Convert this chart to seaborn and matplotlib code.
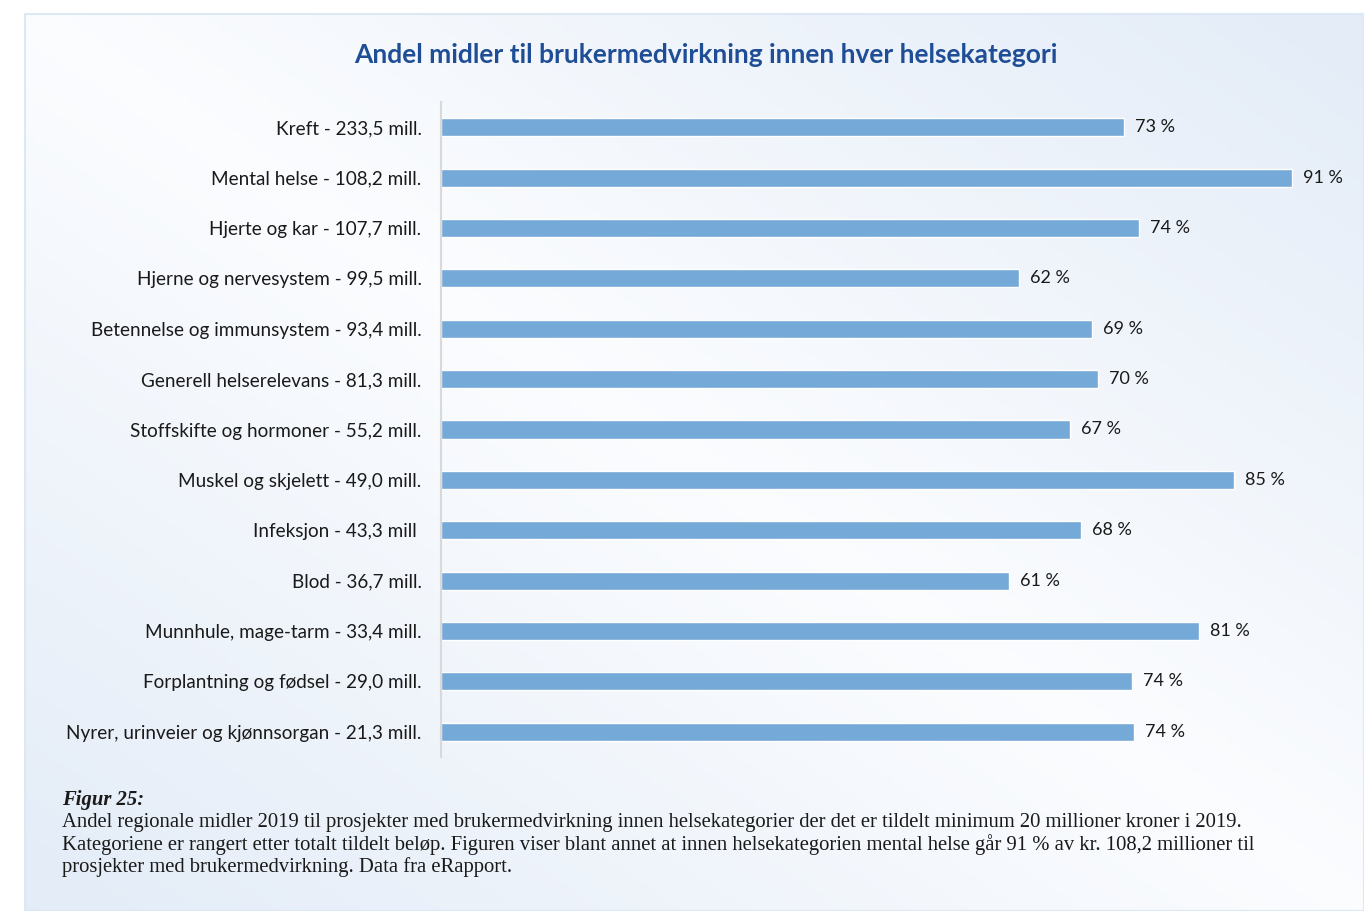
import numpy as np
import pandas as pd
import matplotlib.pyplot as plt
import seaborn as sns

# data
categories = [
    "Kreft - 233,5 mill.",
    "Mental helse - 108,2 mill.",
    "Hjerte og kar - 107,7 mill.",
    "Hjerne og nervesystem - 99,5 mill.",
    "Betennelse og immunsystem - 93,4 mill.",
    "Generell helserelevans - 81,3 mill.",
    "Stoffskifte og hormoner - 55,2 mill.",
    "Muskel og skjelett - 49,0 mill.",
    "Infeksjon - 43,3 mill ",
    "Blod - 36,7 mill.",
    "Munnhule, mage-tarm - 33,4 mill.",
    "Forplantning og fødsel - 29,0 mill.",
    "Nyrer, urinveier og kjønnsorgan - 21,3 mill.",
]
shares = [73.2, 91.2, 74.8, 61.9, 69.8, 70.4, 67.4, 85.0, 68.6, 60.9, 81.2, 74.1, 74.3]
share_labels = ["73 %", "91 %", "74 %", "62 %", "69 %", "70 %", "67 %",
                "85 %", "68 %", "61 %", "81 %", "74 %", "74 %"]

title = "Andel midler til brukermedvirkning innen hver helsekategori"
caption_head = "Figur 25:"
caption_lines = [
    "Andel regionale midler 2019 til prosjekter med brukermedvirkning innen helsekategorier der det er tildelt minimum 20 millioner kroner i 2019.",
    "Kategoriene er rangert etter totalt tildelt beløp. Figuren viser blant annet at innen helsekategorien mental helse går 91 % av kr. 108,2 millioner til",
    "prosjekter med brukermedvirkning. Data fra eRapport.",
]

df = pd.DataFrame({"kategori": categories, "andel": shares})

sns.set_style("white")
plt.rcParams["font.family"] = ["Lato", "DejaVu Sans"]

W, H = 1364, 911
fig = plt.figure(figsize=(W / 100, H / 100), dpi=100)

# gradient panel behind everything
bg = fig.add_axes([25 / W, 0, 1 - 25 / W, 1 - 14 / H], zorder=-10)
u = np.linspace(0, 1, 300)
v = np.linspace(0, 1, 200)
U, V = np.meshgrid(u, v)
t = np.abs(U - V)
c0 = np.array([0.985, 0.99, 0.998])
c1 = np.array([0.89, 0.925, 0.97])
img = c0[None, None, :] * (1 - t[..., None]) + c1[None, None, :] * t[..., None]
bg.imshow(img, aspect="auto", extent=[0, 1, 1, 0])
bg.set_axis_off()
fig.patches.append(plt.Rectangle((25 / W, 0), 1 - 25 / W, 1 - 14 / H,
                                 transform=fig.transFigure, fill=False,
                                 edgecolor="#dde8f5", linewidth=1.5, zorder=-5))

ax = fig.add_axes([441 / W, 154 / H, 897 / W, 655 / H])
ax.patch.set_alpha(0)
sns.barplot(data=df, x="andel", y="kategori", orient="h", color="#74a9d8",
            saturation=1, width=0.36, ax=ax)
ax.set_xlim(0, 897 / 9.33)
ax.set_ylim(12.5, -0.5)
ax.set_xlabel("")
ax.set_ylabel("")
ax.set_xticks([])
for s in ["top", "right", "bottom"]:
    ax.spines[s].set_visible(False)
ax.spines["left"].set_color("#d9d9d9")
ax.spines["left"].set_linewidth(1.5)
ax.tick_params(axis="y", length=0, pad=14, labelsize=13.6, labelcolor="#1a1a1a")

ax.bar_label(ax.containers[0], labels=share_labels, padding=8,
             fontsize=13, color="#1a1a1a")

fig.text(706 / W, 1 - 55 / H, title, ha="center", va="center",
         fontsize=19, fontweight="bold", color="#1f4e96")

serif = ["Liberation Serif", "DejaVu Serif"]
fig.text(62 / W, 1 - 800 / H, caption_head, ha="left", va="center",
         fontsize=14.9, fontweight="bold", fontstyle="italic",
         family=serif, color="#1a1a1a")
for i, line in enumerate(caption_lines):
    fig.text(62 / W, 1 - (823 + 22 * i) / H, line, ha="left", va="center",
             fontsize=14.9, family=serif, color="#1a1a1a")

fig.savefig("out.png", dpi=100)
